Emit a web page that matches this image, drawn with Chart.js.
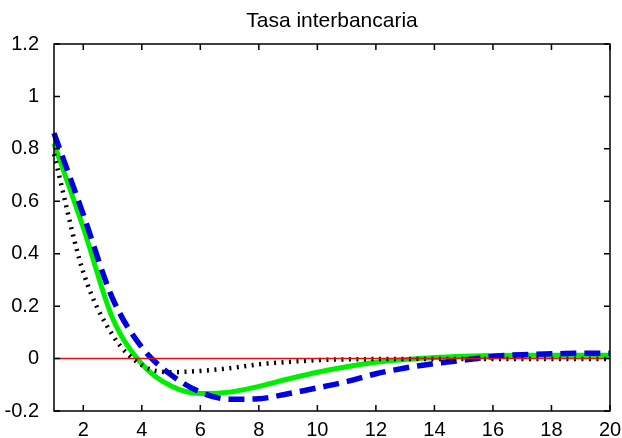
<!DOCTYPE html>
<html>
<head>
<meta charset="utf-8">
<title>Tasa interbancaria</title>
<script src="https://cdn.jsdelivr.net/npm/chart.js@4.4.0/dist/chart.umd.min.js"></script>
<style>
  html, body { margin: 0; padding: 0; background: #fff; }
</style>
</head>
<body>
<canvas id="irf" width="622" height="438"></canvas>
<script>
// horizons of the impulse response
const periods = [1, 2, 3, 4, 5, 6, 7, 8, 9, 10, 11, 12, 13, 14, 15, 16, 17, 18, 19, 20];
// solid green
const greenLine = [0.82, 0.50, 0.155, -0.02, -0.105, -0.133, -0.128, -0.106, -0.078, -0.052,
                   -0.031, -0.014, -0.004, 0.004, 0.009, 0.012, 0.013, 0.013, 0.013, 0.013];
// dashed blue
const blueLine = [0.86, 0.55, 0.23, 0.043, -0.062, -0.128, -0.155, -0.153, -0.134, -0.112,
                  -0.088, -0.058, -0.036, -0.019, -0.006, 0.008, 0.015, 0.018, 0.02, 0.02];
// dotted black
const blackLine = [0.78, 0.33, 0.09, -0.025, -0.052, -0.047, -0.037, -0.022, -0.013, -0.006,
                   -0.003, -0.002, -0.002, -0.002, -0.002, -0.002, -0.002, -0.002, -0.002, -0.002];
// red zero line
const zeroX = [1, 20];
const zeroY = [0, 0];

const xTicks = [2, 4, 6, 8, 10, 12, 14, 16, 18, 20];
const yTicks = [-0.2, 0, 0.2, 0.4, 0.6, 0.8, 1, 1.2];
const chartTitle = 'Tasa interbancaria';

const font = "'Liberation Sans', Arial, sans-serif";

function toPoints (xs, ys) {
  return xs.map((x, i) => ({x: x, y: ys[i]}));
}

// matlab-like box with ticks pointing inwards, and the title
const axesBox = {
  id: 'axesBox',
  afterDraw (chart) {
    const {ctx, chartArea: a, scales: {x, y}} = chart;
    ctx.save();
    ctx.strokeStyle = '#000';
    ctx.lineWidth = 1.5;
    ctx.strokeRect(a.left, a.top, a.right - a.left, a.bottom - a.top);
    ctx.beginPath();
    xTicks.forEach((v) => {
      const px = x.getPixelForValue(v);
      ctx.moveTo(px, a.bottom); ctx.lineTo(px, a.bottom - 6);
      ctx.moveTo(px, a.top); ctx.lineTo(px, a.top + 6);
    });
    yTicks.forEach((v) => {
      const py = y.getPixelForValue(v);
      ctx.moveTo(a.left, py); ctx.lineTo(a.left + 6, py);
      ctx.moveTo(a.right, py); ctx.lineTo(a.right - 6, py);
    });
    ctx.stroke();
    ctx.fillStyle = '#000';
    ctx.font = '21px ' + font;
    ctx.textAlign = 'center';
    ctx.textBaseline = 'alphabetic';
    ctx.fillText(chartTitle, (a.left + a.right) / 2, 27);
    ctx.restore();
  }
};

const config = {
  type: 'line',
  data: {
    datasets: [
      {
        label: 'cero',
        data: toPoints(zeroX, zeroY),
        borderColor: '#e01010',
        borderWidth: 1.5,
        order: 0
      },
      {
        label: 'punteada',
        data: toPoints(periods, blackLine),
        borderColor: '#000',
        borderWidth: 4.5,
        borderDash: [2, 5.5],
        order: 1
      },
      {
        label: 'discontinua',
        data: toPoints(periods, blueLine),
        borderColor: '#0000e0',
        borderWidth: 5.5,
        borderDash: [16, 8],
        order: 2
      },
      {
        label: 'continua',
        data: toPoints(periods, greenLine),
        borderColor: '#00ee00',
        borderWidth: 5,
        order: 3
      }
    ]
  },
  options: {
    responsive: false,
    animation: false,
    devicePixelRatio: 1,
    clip: false,
    elements: {
      point: { radius: 0 },
      line: { cubicInterpolationMode: 'monotone', fill: false, borderCapStyle: 'butt' }
    },
    layout: { padding: { top: 44, right: 12, left: 0, bottom: 0 } },
    plugins: {
      legend: { display: false },
      tooltip: { enabled: false },
      title: { display: false }
    },
    scales: {
      x: {
        type: 'linear',
        min: 1,
        max: 20,
        grid: { display: false },
        border: { display: false },
        afterBuildTicks: (scale) => { scale.ticks = xTicks.map((v) => ({value: v})); },
        afterFit: (scale) => { scale.height = 27; },
        ticks: {
          color: '#000',
          padding: -1,
          maxRotation: 0,
          font: { family: font, size: 20 },
          callback: (v) => String(v)
        }
      },
      y: {
        type: 'linear',
        min: -0.2,
        max: 1.2,
        grid: { display: false },
        border: { display: false },
        afterBuildTicks: (scale) => { scale.ticks = yTicks.map((v) => ({value: v})); },
        afterFit: (scale) => { scale.width = 54; },
        ticks: {
          color: '#000',
          padding: 7,
          font: { family: font, size: 20 },
          callback: (v) => String(Math.round(v * 10) / 10)
        }
      }
    }
  },
  plugins: [axesBox]
};

let irfChart = new Chart(document.getElementById('irf'), config);
</script>
</body>
</html>
